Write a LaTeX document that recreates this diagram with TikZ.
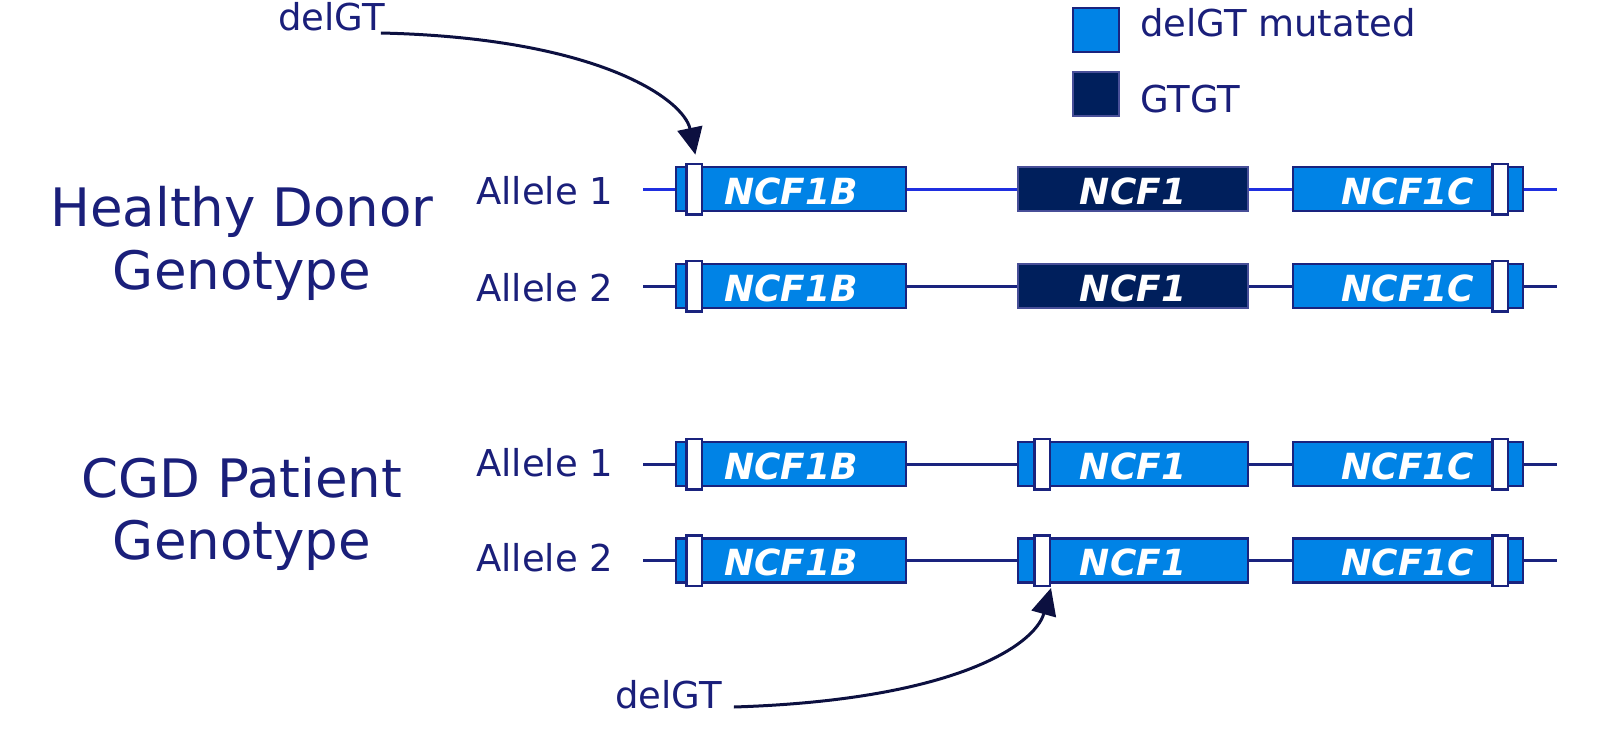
\documentclass[tikz,border=0pt]{standalone}
\usepackage{fontspec}
\setmainfont{DejaVu Sans}
\usetikzlibrary{arrows.meta,calc}

\definecolor{ink}{HTML}{1A1F7A}
\definecolor{edge}{HTML}{1A237E}
\definecolor{geneblue}{HTML}{0083E6}
\definecolor{genedark}{HTML}{001F5C}
\definecolor{brightline}{HTML}{1F2FE0}
\definecolor{arrowink}{HTML}{0C1040}

\tikzset{
  gene/.style={draw=edge, fill=geneblue, line width=2.5pt, rectangle,
    minimum width=230pt, minimum height=44pt, inner sep=0pt, text=white,
    text height=30pt, text depth=0pt,
    font=\fontsize{36}{40}\selectfont\bfseries\itshape},
  gtgt/.style={gene, fill=genedark, draw=edge!80!white},
  notch/.style={draw=edge, fill=white, line width=2.5pt, rectangle,
    minimum width=15.5pt, minimum height=50.5pt, inner sep=0pt},
  backbone/.style={draw=edge, line width=3pt},
  label/.style={text=ink, inner sep=0pt, font=\fontsize{37}{44}\selectfont},
  heading/.style={text=ink, inner sep=0pt, anchor=base, font=\fontsize{53}{63}\selectfont},
  pointer/.style={draw=arrowink, line width=3pt,
    -{Triangle[length=27pt,width=25pt]}},
  key/.style={draw=edge, line width=2.5pt, rectangle, minimum width=46pt,
    minimum height=44pt, inner sep=0pt}
}

\begin{document}
\begin{tikzpicture}[x=1pt,y=-1pt]
\useasboundingbox (0,0) rectangle (1603,728);

% row backbones
\foreach \r/\y in {h1/189, h2/286, c1/464, c2/560.5} {
  \coordinate (\r s) at (643,\y);
  \coordinate (\r e) at (1557,\y);
}
\draw[backbone, draw=brightline] (h1s) -- (h1e);
\draw[backbone] (h2s) -- (h2e);
\draw[backbone] (c1s) -- (c1e);
\draw[backbone] (c2s) -- (c2e);

% healthy donor, allele 1
\node[gene] (h1b) at (791,189) {NCF1B};
\node[gtgt] (h1n) at (1133,189) {NCF1};
\node[gene] (h1c) at (1408,189) {NCF1C};
\node[notch] (h1bx) at (694,189) {};
\node[notch] (h1cx) at (1500,189) {};

% healthy donor, allele 2
\node[gene] (h2b) at (791,286) {NCF1B};
\node[gtgt] (h2n) at (1133,286) {NCF1};
\node[gene] (h2c) at (1408,286) {NCF1C};
\node[notch] (h2bx) at (694,286) {};
\node[notch] (h2cx) at (1500,286) {};

% patient, allele 1
\node[gene] (c1b) at (791,464) {NCF1B};
\node[gene] (c1n) at (1133,464) {NCF1};
\node[gene] (c1c) at (1408,464) {NCF1C};
\node[notch] (c1bx) at (694,464) {};
\node[notch] (c1nx) at (1042,464) {};
\node[notch] (c1cx) at (1500,464) {};

% patient, allele 2
\node[gene] (c2b) at (791,560.5) {NCF1B};
\node[gene] (c2n) at (1133,560.5) {NCF1};
\node[gene] (c2c) at (1408,560.5) {NCF1C};
\node[notch] (c2bx) at (694,560.5) {};
\node[notch] (c2nx) at (1042,560.5) {};
\node[notch] (c2cx) at (1500,560.5) {};

% allele labels
\node[label, anchor=base west] (ah1) at (476,204) {Allele 1};
\node[label, anchor=base west] (ah2) at (476,301) {Allele 2};
\node[label, anchor=base west] (ac1) at (476,476) {Allele 1};
\node[label, anchor=base west] (ac2) at (476,571) {Allele 2};

% group headings
\node[heading] (hd1) at (242,226) {Healthy Donor};
\node[heading] (hd2) at (242,289) {Genotype};
\node[heading] (cg1) at (242,497) {CGD Patient};
\node[heading] (cg2) at (242,559) {Genotype};

% legend
\node[key, fill=geneblue] (k1) at (1096,30) {};
\node[key, fill=genedark, draw=edge!80!white] (k2) at (1096,94) {};
\node[label, anchor=base west] (k1t) at (1140,36) {delGT mutated};
\node[label, anchor=base west] (k2t) at (1140,112) {GTGT};

% deletion pointers
\node[label, anchor=base west] (dA) at (278,30) {delGT};
\node[label, anchor=base west] (dB) at (615,708) {delGT};
\draw[pointer, shorten >=8pt] ($(dA.base east)+(-4,3)$)
  .. controls (600,38) and (684,100) .. ($(h1bx.north)+(3,0)$);
\draw[pointer] ($(dB.base east)+(12,-1)$)
  .. controls (955,700) and (1035,645) .. ($(c2nx.south)+(9,1)$);

\end{tikzpicture}
\end{document}
